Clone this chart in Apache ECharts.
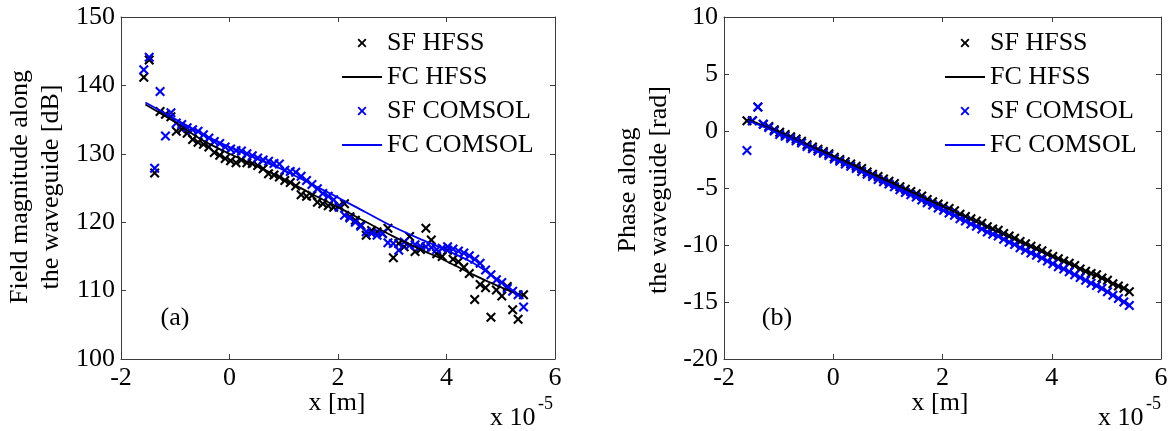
<!DOCTYPE html>
<html>
<head>
<meta charset="utf-8">
<title>Field magnitude and phase along the waveguide</title>
<script src="https://cdn.jsdelivr.net/npm/echarts@6.0.0/dist/echarts.min.js"></script>
<style>
  html, body { margin: 0; padding: 0; background: #fff; }
  #chart { width: 1172px; height: 431px; }
</style>
</head>
<body>
<div id="chart"></div>
<script>
// sample positions along the guide (x 10^-5 m)
const xPos = [
  -1.58, -1.48, -1.38, -1.28, -1.18, -1.08, -0.98, -0.88, -0.78, -0.68,
  -0.58, -0.48, -0.38, -0.28, -0.18, -0.08, 0.02, 0.12, 0.22, 0.32,
  0.42, 0.52, 0.62, 0.72, 0.82, 0.92, 1.02, 1.12, 1.22, 1.32,
  1.42, 1.52, 1.62, 1.72, 1.82, 1.92, 2.02, 2.12, 2.22, 2.32,
  2.42, 2.52, 2.62, 2.72, 2.82, 2.92, 3.02, 3.12, 3.22, 3.32,
  3.42, 3.52, 3.62, 3.72, 3.82, 3.92, 4.02, 4.12, 4.22, 4.32,
  4.42, 4.52, 4.62, 4.72, 4.82, 4.92, 5.02, 5.12, 5.22, 5.32,
  5.42
];
// fitted curve positions
const fitX = [-1.55, -1.0, -0.5, 0, 0.5, 1.0, 1.5, 2.0, 2.5, 3.0, 3.5, 4.0, 4.5, 5.0, 5.42];

// (a) field magnitude [dB]
const magSfHfss = [
  141.2, 143.7, 127.2, 136.2, 135.8, 135.4, 133.3, 133.6, 133.0, 132.1,
  131.7, 131.4, 131.0, 130.2, 129.8, 129.3, 129.0, 128.7, 129.1, 128.7,
  128.6, 128.3, 127.8, 127.1, 126.9, 126.6, 126.1, 125.8, 125.3, 124.0,
  123.8, 123.9, 122.9, 122.7, 122.4, 122.2, 122.4, 122.7, 120.8, 120.3,
  119.6, 118.1, 118.8, 118.6, 118.3, 119.1, 114.8, 116.9, 116.4, 117.9,
  115.7, 116.0, 119.1, 117.4, 115.4, 115.0, 115.9, 114.6, 114.2, 113.4,
  112.5, 108.7, 110.9, 110.4, 106.1, 110.1, 109.2, 110.6, 107.2, 105.8,
  109.4
];
const magSfComsol = [
  142.3, 144.1, 127.9, 139.1, 132.6, 136.0, 134.5, 134.3, 133.8, 133.5,
  133.3, 132.8, 132.3, 131.8, 131.5, 131.0, 130.7, 130.5, 130.4, 130.0,
  129.7, 129.4, 129.1, 128.9, 128.6, 128.5, 127.6, 127.4, 127.3, 126.7,
  126.1, 125.5, 124.9, 124.2, 123.8, 123.3, 122.2, 121.0, 120.6, 120.0,
  119.4, 118.6, 118.4, 118.1, 118.4, 117.0, 116.9, 115.9, 117.1, 116.6,
  116.7, 116.5, 116.4, 116.3, 116.0, 116.2, 116.4, 116.1, 115.8, 115.5,
  115.1, 114.6, 114.0, 113.0, 112.3, 111.6, 111.2, 110.3, 109.9, 109.4,
  107.6
];
const magFcHfss = [137.2, 134.6, 132.0, 130.0, 128.2, 126.3, 124.2, 122.2, 120.1, 118.0, 116.1, 114.3, 112.3, 110.5, 109.2];
const magFcComsol = [137.5, 135.1, 132.9, 131.0, 129.3, 127.6, 125.6, 123.6, 121.5, 119.4, 117.6, 115.9, 114.0, 111.3, 108.8];

// (b) phase [rad]
const phaseSfHfss = [
  0.9, 0.9, 2.1, 0.6, 0.4, 0.1, -0.1, -0.3, -0.5, -0.7,
  -0.9, -1.2, -1.4, -1.6, -1.8, -2.0, -2.3, -2.5, -2.7, -2.9,
  -3.1, -3.3, -3.6, -3.8, -4.0, -4.2, -4.4, -4.6, -4.9, -5.1,
  -5.3, -5.5, -5.7, -6.0, -6.2, -6.4, -6.6, -6.8, -7.0, -7.3,
  -7.5, -7.7, -7.9, -8.1, -8.4, -8.6, -8.7, -9.0, -9.2, -9.4,
  -9.7, -9.9, -10.1, -10.3, -10.5, -10.8, -11.0, -11.2, -11.4, -11.6,
  -11.8, -12.1, -12.3, -12.5, -12.6, -12.9, -13.1, -13.4, -13.6, -13.8,
  -14.1
];
const phaseSfComsol = [
  -1.7, 0.9, 2.1, 0.6, 0.3, 0.0, -0.3, -0.45, -0.65, -0.85,
  -1.05, -1.35, -1.55, -1.75, -1.95, -2.15, -2.45, -2.65, -2.9, -3.1,
  -3.3, -3.55, -3.8, -4.0, -4.25, -4.45, -4.65, -4.9, -5.15, -5.4,
  -5.6, -5.8, -6.05, -6.3, -6.5, -6.75, -6.95, -7.2, -7.4, -7.7,
  -7.9, -8.15, -8.35, -8.6, -8.85, -9.05, -9.2, -9.5, -9.75, -9.95,
  -10.25, -10.45, -10.7, -10.9, -11.15, -11.4, -11.65, -11.9, -12.1, -12.35,
  -12.6, -12.85, -13.1, -13.35, -13.55, -13.8, -14.1, -14.4, -14.7, -15.0,
  -15.3
];
const phaseFcHfss = [1.0, -0.1, -1.2, -2.2, -3.3, -4.4, -5.5, -6.6, -7.7, -8.8, -9.9, -11.0, -12.0, -13.1, -14.0];
const phaseFcComsol = [0.9, -0.2, -1.3, -2.4, -3.5, -4.7, -5.8, -6.9, -8.1, -9.2, -10.4, -11.6, -12.8, -14.1, -15.2];

const xTicks = { min: -2, max: 6, interval: 2 };
const magTicks = { min: 100, max: 150, interval: 10 };
const phaseTicks = { min: -20, max: 10, interval: 5 };
const seriesNames = ['SF HFSS', 'FC HFSS', 'SF COMSOL', 'FC COMSOL'];

const FONT = 'Liberation Serif';
const AXIS_COLOR = '#3c3c3c';
const crossPath = 'path://M0,1.5L1.5,0L5,3.5L8.5,0L10,1.5L6.5,5L10,8.5L8.5,10L5,6.5L1.5,10L0,8.5L3.5,5Z';
const dashPath = 'path://M0,0L40,0L40,1.8L0,1.8Z';

const chart = echarts.init(document.getElementById('chart'));

function boxAxis(gridIndex, ticks, position, showLabel) {
    return {
        type: 'value',
        gridIndex: gridIndex,
        position: position,
        min: ticks.min,
        max: ticks.max,
        interval: ticks.interval,
        axisLine: { show: true, onZero: false, lineStyle: { color: AXIS_COLOR, width: 1 } },
        axisTick: { show: true, inside: true, length: 5, lineStyle: { color: AXIS_COLOR, width: 1 } },
        axisLabel: {
            show: showLabel,
            color: '#000',
            fontFamily: FONT,
            fontSize: 26,
            margin: 6
        },
        splitLine: { show: false }
    };
}

function crosses(name, color, axisIdx, values) {
    return {
        name: name,
        type: 'scatter',
        xAxisIndex: axisIdx,
        yAxisIndex: axisIdx,
        symbol: crossPath,
        symbolSize: 10,
        symbolKeepAspect: true,
        itemStyle: { color: color, opacity: 1 },
        emphasis: { disabled: true },
        data: xPos.map((x, i) => [x, values[i]])
    };
}

function fitted(name, color, axisIdx, values) {
    return {
        name: name,
        type: 'line',
        xAxisIndex: axisIdx,
        yAxisIndex: axisIdx,
        smooth: 0.3,
        symbol: 'none',
        lineStyle: { color: color, width: 1.8 },
        itemStyle: { color: color },
        emphasis: { disabled: true },
        data: fitX.map((x, i) => [x, values[i]])
    };
}

function legendAt(left) {
    return {
        orient: 'vertical',
        left: left,
        top: 30,
        padding: 0,
        itemWidth: 40,
        itemHeight: 9,
        itemGap: 8,
        selectedMode: false,
        textStyle: { color: '#000', fontFamily: FONT, fontSize: 26 },
        data: seriesNames.map((name) => ({
            name: name,
            icon: name.startsWith('SF') ? crossPath : dashPath
        }))
    };
}

function label(x, y, text, size, align, rotation) {
    return {
        type: 'text',
        x: x,
        y: y,
        rotation: rotation || 0,
        silent: true,
        style: {
            text: text,
            fill: '#000',
            fontFamily: FONT,
            fontSize: size,
            lineHeight: 31,
            align: align,
            verticalAlign: 'middle'
        }
    };
}

const option = {
    animation: false,
    backgroundColor: '#fff',
    grid: [
        { left: 121, right: 617, top: 17, bottom: 72 },
        { left: 724, right: 11, top: 17, bottom: 72 }
    ],
    xAxis: [
        boxAxis(0, xTicks, 'bottom', true),
        boxAxis(1, xTicks, 'bottom', true),
        boxAxis(0, xTicks, 'top', false),
        boxAxis(1, xTicks, 'top', false)
    ],
    yAxis: [
        boxAxis(0, magTicks, 'left', true),
        boxAxis(1, phaseTicks, 'left', true),
        boxAxis(0, magTicks, 'right', false),
        boxAxis(1, phaseTicks, 'right', false)
    ],
    legend: [legendAt(342), legendAt(945)],
    graphic: [
        label(36, 187, 'Field magnitude along\nthe waveguide [dB]', 26, 'center', Math.PI / 2),
        label(644, 190, 'Phase along\nthe waveguide [rad]', 26, 'center', Math.PI / 2),
        label(337, 403, 'x [m]', 26, 'center'),
        label(940, 403, 'x [m]', 26, 'center'),
        label(490, 418, 'x 10', 26, 'left'),
        label(538, 404, '-5', 18, 'left'),
        label(1098, 418, 'x 10', 26, 'left'),
        label(1146, 404, '-5', 18, 'left'),
        label(175, 318, '(a)', 26, 'center'),
        label(777, 318, '(b)', 26, 'center')
    ],
    series: [
        crosses('SF HFSS', '#000000', 0, magSfHfss),
        fitted('FC HFSS', '#000000', 0, magFcHfss),
        crosses('SF COMSOL', '#0000ff', 0, magSfComsol),
        fitted('FC COMSOL', '#0000ff', 0, magFcComsol),
        crosses('SF HFSS', '#000000', 1, phaseSfHfss),
        fitted('FC HFSS', '#000000', 1, phaseFcHfss),
        crosses('SF COMSOL', '#0000ff', 1, phaseSfComsol),
        fitted('FC COMSOL', '#0000ff', 1, phaseFcComsol)
    ]
};

chart.setOption(option);
window.addEventListener('resize', () => chart.resize());
</script>
</body>
</html>
